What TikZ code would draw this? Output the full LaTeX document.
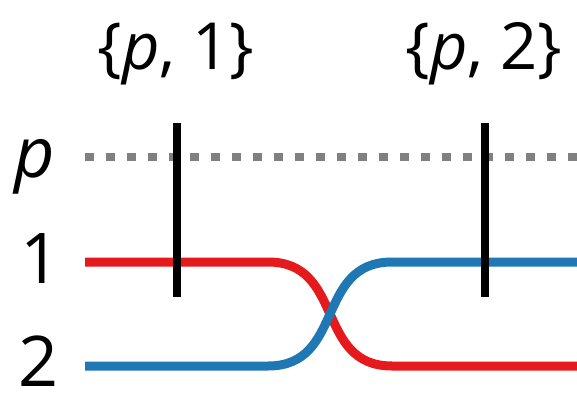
\documentclass[tikz,border=0pt]{standalone}
\usepackage{fontspec}
\setmainfont{Open Sans}
\definecolor{cred}{RGB}{228,26,28}
\definecolor{cblue}{RGB}{31,120,180}
\definecolor{cgray}{RGB}{128,128,128}
\begin{document}
\begin{tikzpicture}[x=1pt,y=-1pt,
  toplabel/.style={anchor=base,inner sep=0pt,font=\fontsize{65}{65}\selectfont},
  sidelabel/.style={anchor=base,inner sep=0pt,font=\fontsize{70}{70}\selectfont},
  strand/.style={line width=9pt},
  bar/.style={line width=8.5pt,black},
  dotline/.style={line width=8pt,cgray,dash pattern=on 9pt off 12pt}]
\useasboundingbox (0,0) rectangle (577,393);
\node[toplabel] (l1) at (176,70) {\{\textit{p}, 1\}};
\node[toplabel] (l2) at (484,70) {\{\textit{p}, 2\}};
\node[sidelabel] (lp) at (35,177) {\textit{p}};
\node[sidelabel] (ln1) at (41,283) {1};
\node[sidelabel] (ln2) at (39,386) {2};
\coordinate (ps) at (85,157);
\coordinate (pe) at (577,157);
\draw[dotline] (ps) -- (pe);
\coordinate (r0) at (85,262);
\coordinate (r1) at (268,262);
\coordinate (r2) at (392,366);
\coordinate (r3) at (577,366);
\coordinate (b0) at (85,366);
\coordinate (b1) at (268,366);
\coordinate (b2) at (392,262);
\coordinate (b3) at (577,262);
\draw[strand,cred] (r0) -- (r1) .. controls (345,262) and (315,366) .. (r2) -- (r3);
\draw[strand,cblue] (b0) -- (b1) .. controls (345,366) and (315,262) .. (b2) -- (b3);
\coordinate (t1) at (177,123);
\coordinate (u1) at (177,297);
\coordinate (t2) at (485,123);
\coordinate (u2) at (485,297);
\draw[bar] (t1) -- (u1);
\draw[bar] (t2) -- (u2);
\end{tikzpicture}
\end{document}
